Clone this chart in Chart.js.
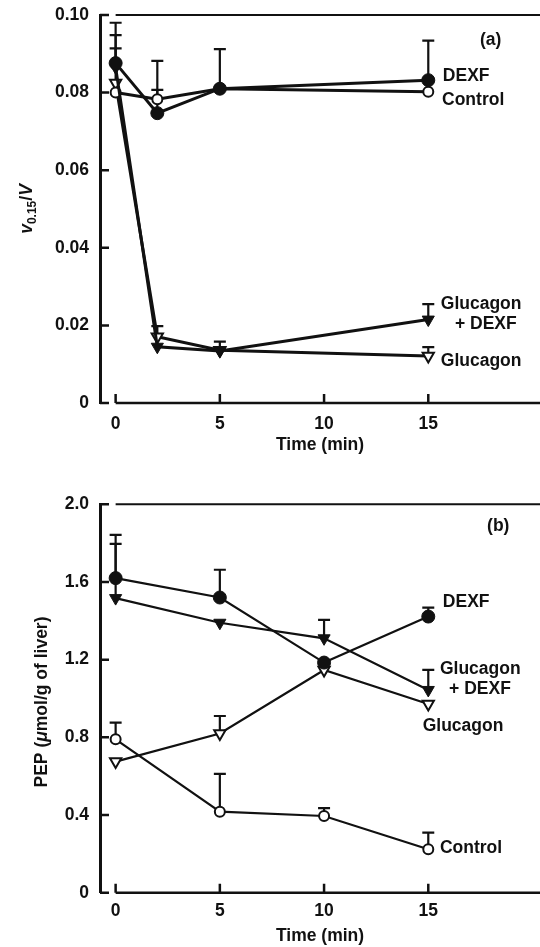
<!DOCTYPE html>
<html>
<head>
<meta charset="utf-8">
<script src="https://cdn.jsdelivr.net/npm/chart.js@4.4.0/dist/chart.umd.min.js"></script>
<style>
body { margin: 0; background: #fff; width: 540px; height: 947px; overflow: hidden; position: relative; }
.panel { position: absolute; left: 0; width: 540px; }
#wrapA { top: 0; height: 470px; }
#wrapB { top: 470px; height: 477px; }
</style>
</head>
<body>
<div class="panel" id="wrapA"><canvas id="chartA" width="540" height="470"></canvas></div>
<div class="panel" id="wrapB"><canvas id="chartB" width="540" height="477"></canvas></div>
<script>
// ---- panel (a): v0.15/V ----
var timesA = [0, 2, 5, 15];
var dexfA = [0.0876, 0.0747, 0.0810, 0.0832];
var controlA = [0.0800, 0.0783, 0.0810, 0.0802];
var glucDexfA = [0.0865, 0.0145, 0.0134, 0.0215];
var glucagonA = [0.0825, 0.0171, 0.0136, 0.0121];
// upper end of the error bars (mean + SEM), null where none is drawn
var dexfAUp = [0.0980, 0.0882, 0.0912, 0.0934];
var controlAUp = [0.0914, 0.0807, null, null];
var glucDexfAUp = [0.0948, null, 0.0158, 0.0255];
var glucagonAUp = [null, 0.0198, null, 0.0144];
var yTicksA = [0, 0.02, 0.04, 0.06, 0.08, 0.10];
var yTickLabelsA = ['0', '0.02', '0.04', '0.06', '0.08', '0.10'];

// ---- panel (b): PEP ----
var timesB = [0, 5, 10, 15];
var dexfB = [1.62, 1.52, 1.185, 1.422];
var glucDexfB = [1.517, 1.39, 1.31, 1.044];
var glucagonB = [0.675, 0.82, 1.147, 0.972];
var controlB = [0.79, 0.417, 0.395, 0.224];
var dexfBUp = [1.843, 1.663, null, 1.468];
var glucDexfBUp = [1.796, null, 1.405, 1.147];
var glucagonBUp = [null, 0.91, null, null];
var controlBUp = [0.876, 0.612, 0.435, 0.309];
var yTicksB = [0, 0.4, 0.8, 1.2, 1.6, 2.0];
var yTickLabelsB = ['0', '0.4', '0.8', '1.2', '1.6', '2.0'];

var xTicks = [0, 5, 10, 15];

var INK = '#111';
var FAMILY = '"Liberation Sans", Arial, Helvetica, sans-serif';
var FS = 17.5;

function pts(times, vals) {
	var out = [];
	for (var i in times) out.push({ x: times[i], y: vals[i] });
	return out;
}

function series(label, times, vals, upper, kind, lw) {
	var open = kind.indexOf('open') === 0;
	var tri = kind.indexOf('Tri') > 0;
	return {
		label: label,
		data: pts(times, vals),
		upper: upper,
		borderColor: INK,
		borderWidth: lw,
		fill: false,
		tension: 0,
		pointStyle: tri ? 'triangle' : 'circle',
		pointRotation: tri ? 180 : 0,
		pointRadius: tri ? (open ? 6.5 : 7) : (open ? 5 : 6.5),
		pointBackgroundColor: open ? '#fff' : INK,
		pointBorderColor: INK,
		pointBorderWidth: open ? 2 : 1,
		pointHoverRadius: 0
	};
}

var framePlugin = {
	id: 'frame',
	beforeDatasetsDraw: function(chart) {
		var ctx = chart.ctx, xs = chart.scales.x, ys = chart.scales.y, area = chart.chartArea;
		ctx.save();
		ctx.strokeStyle = INK;
		ctx.lineCap = 'butt';
		var x0 = xs.getPixelForValue(0);
		ctx.lineWidth = 2.5;
		ctx.beginPath();
		ctx.moveTo(x0, area.bottom); ctx.lineTo(area.right, area.bottom);
		ctx.stroke();
		ctx.lineWidth = 2;
		ctx.beginPath();
		ctx.moveTo(x0, area.top); ctx.lineTo(area.right, area.top);
		ctx.stroke();
		// inward ticks
		ctx.lineWidth = 2.5;
		ctx.beginPath();
		ys.ticks.forEach(function(t) {
			var y = ys.getPixelForValue(t.value);
			ctx.moveTo(area.left, y); ctx.lineTo(area.left + 9, y);
		});
		xs.ticks.forEach(function(t) {
			var x = xs.getPixelForValue(t.value);
			ctx.moveTo(x, area.bottom); ctx.lineTo(x, area.bottom - 9);
		});
		ctx.stroke();
		// error bars, upward only
		ctx.lineWidth = 2.2;
		chart.data.datasets.forEach(function(ds) {
			ds.data.forEach(function(p, j) {
				var up = ds.upper[j];
				if (up === null || up === undefined) return;
				var x = xs.getPixelForValue(p.x);
				var y0 = ys.getPixelForValue(p.y);
				var y1 = ys.getPixelForValue(up);
				ctx.beginPath();
				ctx.moveTo(x, y0); ctx.lineTo(x, y1);
				ctx.moveTo(x - 6, y1); ctx.lineTo(x + 6, y1);
				ctx.stroke();
			});
		});
		ctx.restore();
	},
	afterDraw: function(chart, args, opts) {
		var ctx = chart.ctx, xs = chart.scales.x, ys = chart.scales.y;
		ctx.save();
		ctx.fillStyle = INK;
		ctx.textAlign = 'left';
		ctx.textBaseline = 'middle';
		ctx.font = 'bold ' + FS + 'px ' + FAMILY;
		opts.notes.forEach(function(n) {
			ctx.fillText(n.text, xs.getPixelForValue(n.x), ys.getPixelForValue(n.y));
		});
		// rotated y title built from pieces (italic / subscript)
		var parts = opts.yTitle.parts;
		function fontFor(p) {
			return (p.italic ? 'italic ' : '') + 'bold ' + (p.sub ? 12 : FS) + 'px ' + FAMILY;
		}
		var total = 0;
		parts.forEach(function(p) { ctx.font = fontFor(p); total += ctx.measureText(p.t).width; });
		ctx.translate(opts.yTitle.x, opts.yTitle.y);
		ctx.rotate(-Math.PI / 2);
		ctx.textBaseline = 'alphabetic';
		var cx = -total / 2;
		parts.forEach(function(p) {
			ctx.font = fontFor(p);
			ctx.fillText(p.t, cx, p.sub ? 4 : 0);
			cx += ctx.measureText(p.t).width;
		});
		ctx.restore();
	}
};

function makeChart(id, cfg) {
	var tickFont = { family: FAMILY, size: FS, weight: 'bold' };
	return new Chart(document.getElementById(id), {
		type: 'line',
		data: { datasets: cfg.datasets },
		plugins: [framePlugin],
		options: {
			responsive: false,
			animation: false,
			events: [],
			layout: { autoPadding: false, padding: { top: cfg.padTop, right: 0, bottom: 0, left: 0 } },
			plugins: {
				legend: { display: false },
				tooltip: { enabled: false },
				frame: { notes: cfg.notes, yTitle: cfg.yTitle }
			},
			scales: {
				x: {
					type: 'linear',
					min: -0.75,
					max: 20.36,
					grid: { display: false, drawTicks: false },
					border: { display: false },
					afterBuildTicks: function(s) { s.ticks = xTicks.map(function(v) { return { value: v }; }); },
					afterFit: function(s) { s.height = cfg.xAxisH; s.paddingLeft = 0; s.paddingRight = 0; },
					ticks: { color: INK, font: tickFont, padding: cfg.xTickPad, maxRotation: 0 },
					title: {
						display: true, text: 'Time (min)', color: INK, font: tickFont,
						padding: { top: 0, bottom: cfg.titlePadBottom }
					}
				},
				y: {
					type: 'linear',
					min: cfg.yTicks[0],
					max: cfg.yTicks[cfg.yTicks.length - 1],
					grid: { display: false, drawTicks: false },
					border: { display: true, color: INK, width: 3 },
					afterBuildTicks: function(s) { s.ticks = cfg.yTicks.map(function(v) { return { value: v }; }); },
					afterFit: function(s) { s.width = 100; s.paddingTop = 0; s.paddingBottom = 0; },
					ticks: {
						color: INK, font: tickFont, padding: 11,
						callback: function(v, i) { return cfg.yTickLabels[i]; }
					}
				}
			}
		}
	});
}

makeChart('chartA', {
	padTop: 15,
	xAxisH: 67,
	xTickPad: 10.5,
	titlePadBottom: 14.5,
	yTicks: yTicksA,
	yTickLabels: yTickLabelsA,
	datasets: [
		series('DEXF', timesA, dexfA, dexfAUp, 'filledCircle', 3),
		series('Glucagon + DEXF', timesA, glucDexfA, glucDexfAUp, 'filledTri', 3),
		series('Control', timesA, controlA, controlAUp, 'openCircle', 3),
		series('Glucagon', timesA, glucagonA, glucagonAUp, 'openTri', 3)
	],
	notes: [
		{ text: '(a)', x: 17.48, y: 0.0936 },
		{ text: 'DEXF', x: 15.7, y: 0.0843 },
		{ text: 'Control', x: 15.66, y: 0.0781 },
		{ text: 'Glucagon', x: 15.6, y: 0.0255 },
		{ text: '+ DEXF', x: 16.28, y: 0.0204 },
		{ text: 'Glucagon', x: 15.6, y: 0.0108 }
	],
	yTitle: {
		x: 32, y: 209,
		parts: [{ t: 'v', italic: true }, { t: '0.15', sub: true }, { t: '/' }, { t: 'V', italic: true }]
	}
});

makeChart('chartB', {
	padTop: 34.3,
	xAxisH: 54.3,
	xTickPad: 7.5,
	titlePadBottom: 0,
	yTicks: yTicksB,
	yTickLabels: yTickLabelsB,
	datasets: [
		series('DEXF', timesB, dexfB, dexfBUp, 'filledCircle', 2.2),
		series('Glucagon + DEXF', timesB, glucDexfB, glucDexfBUp, 'filledTri', 2.2),
		series('Control', timesB, controlB, controlBUp, 'openCircle', 2.2),
		series('Glucagon', timesB, glucagonB, glucagonBUp, 'openTri', 2.2)
	],
	notes: [
		{ text: '(b)', x: 17.82, y: 1.886 },
		{ text: 'DEXF', x: 15.7, y: 1.494 },
		{ text: 'Glucagon', x: 15.56, y: 1.15 },
		{ text: '+ DEXF', x: 16.0, y: 1.046 },
		{ text: 'Glucagon', x: 14.73, y: 0.859 },
		{ text: 'Control', x: 15.56, y: 0.227 }
	],
	yTitle: {
		x: 47, y: 232,
		parts: [{ t: 'PEP (' }, { t: '\u03bc', italic: true }, { t: 'mol/g of liver)' }]
	}
});
</script>
</body>
</html>
